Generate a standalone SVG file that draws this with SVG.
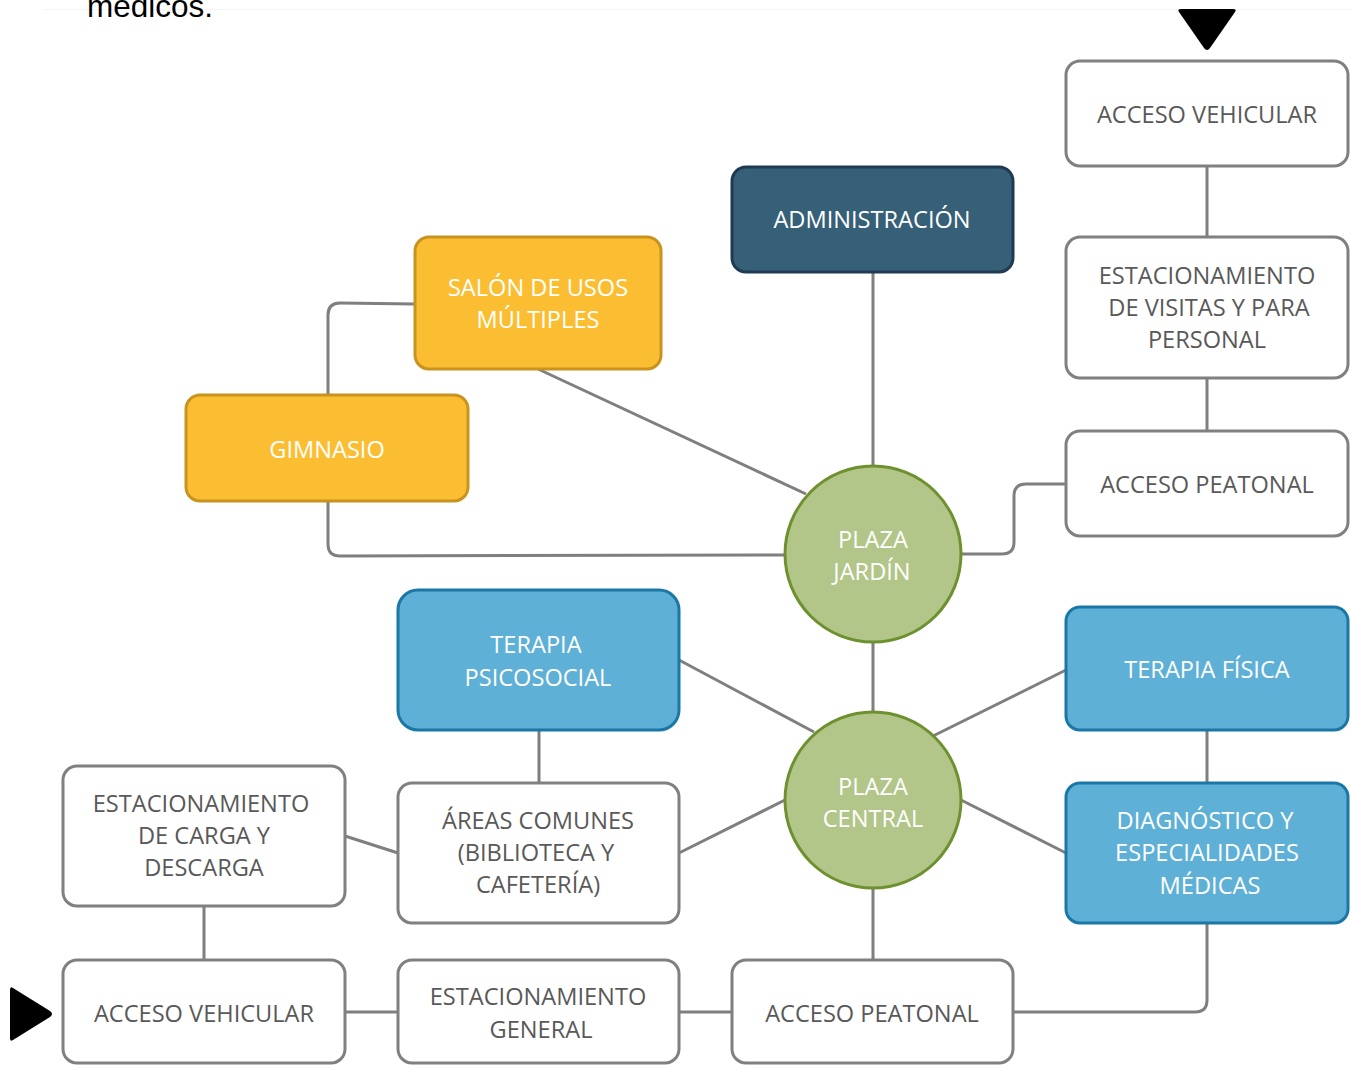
<svg xmlns="http://www.w3.org/2000/svg" width="1351" height="1065" viewBox="0 0 1351 1065">
<style>
.wb{fill:#fff;stroke:#808080;stroke-width:3}
.yb{fill:#fbbe32;stroke:#c9931f;stroke-width:3}
.bb{fill:#5eb0d6;stroke:#1b77a6;stroke-width:3}
.db{fill:#365f78;stroke:#1e3b52;stroke-width:3}
.gc{fill:#b1c688;stroke:#6e9130;stroke-width:3}
.c{fill:none;stroke:#7f7f7f;stroke-width:3;stroke-linejoin:round}
text{font-family:"Open Sans","Noto Sans","Liberation Sans",sans-serif;font-size:23.6px;text-anchor:middle}
.g{fill:#595959}
.w{fill:#fff}
</style>
<rect width="1351" height="1065" fill="#fff"/>
<line x1="43" y1="9.5" x2="1351" y2="9.5" stroke="#f4f4f4" stroke-width="1"/>
<text x="87" y="17" style="font-family:'Liberation Sans',Arial,sans-serif;font-size:31.5px;text-anchor:start;fill:#000">médicos.</text>
<g id="connectors">
<path class="c" d="M1207 166V237"/>
<path class="c" d="M1207 378V431"/>
<path class="c" d="M1066 484H1026Q1014 484 1014 496V542Q1014 554 1002 554H961"/>
<path class="c" d="M873 272V466"/>
<path class="c" d="M538 369L806 494"/>
<path class="c" d="M415 304L340 303Q328 303 328 315V395"/>
<path class="c" d="M328 501V544Q328 556 340 556L785 555"/>
<path class="c" d="M873 641V712"/>
<path class="c" d="M679 660L814 732"/>
<path class="c" d="M539 730V783"/>
<path class="c" d="M1066 670L931 737"/>
<path class="c" d="M1207 730V783"/>
<path class="c" d="M785 800L679 853"/>
<path class="c" d="M961 800L1066 853"/>
<path class="c" d="M345 836L398 853"/>
<path class="c" d="M204 906V960"/>
<path class="c" d="M345 1012H398"/>
<path class="c" d="M679 1012H732"/>
<path class="c" d="M873 888V960"/>
<path class="c" d="M1013 1012H1195Q1207 1012 1207 1000V923"/>
</g>
<g id="arrow-top"><path d="M1181 9H1233Q1237 9 1235 12L1210 48Q1207 52 1204 48L1179 12Q1177 9 1181 9Z" fill="#000"/></g>
<g id="arrow-left"><path d="M10 990Q10 986 13 988L50 1011Q54 1014 50 1017L13 1040Q10 1042 10 1038Z" fill="#000"/></g>
<g id="acceso-vehicular-top"><rect class="wb" x="1066" y="61" width="282" height="105" rx="14"/><text class="g" x="1207" y="123">ACCESO VEHICULAR</text></g>
<g id="estacionamiento-visitas"><rect class="wb" x="1066" y="237" width="282" height="141" rx="14"/><text class="g" x="1207" y="284">ESTACIONAMIENTO</text><text class="g" x="1209" y="316">DE VISITAS Y PARA</text><text class="g" x="1207" y="348">PERSONAL</text></g>
<g id="acceso-peatonal-right"><rect class="wb" x="1066" y="431" width="282" height="105" rx="14"/><text class="g" x="1207" y="493">ACCESO PEATONAL</text></g>
<g id="administracion"><rect class="db" x="732" y="167" width="281" height="105" rx="14"/><text class="w" x="872" y="228">ADMINISTRACIÓN</text></g>
<g id="salon-usos-multiples"><rect class="yb" x="415" y="237" width="246" height="132" rx="14"/><text class="w" x="538" y="296">SALÓN DE USOS</text><text class="w" x="538" y="328">MÚLTIPLES</text></g>
<g id="gimnasio"><rect class="yb" x="186" y="395" width="282" height="106" rx="14"/><text class="w" x="327" y="458">GIMNASIO</text></g>
<g id="plaza-jardin"><circle class="gc" cx="873" cy="554" r="88"/><text class="w" x="873" y="548">PLAZA</text><text class="w" x="872" y="580">JARDÍN</text></g>
<g id="plaza-central"><circle class="gc" cx="873" cy="800" r="88"/><text class="w" x="873" y="795">PLAZA</text><text class="w" x="873" y="827">CENTRAL</text></g>
<g id="terapia-psicosocial"><rect class="bb" x="398" y="590" width="281" height="140" rx="20"/><text class="w" x="536" y="653">TERAPIA</text><text class="w" x="538" y="686">PSICOSOCIAL</text></g>
<g id="terapia-fisica"><rect class="bb" x="1066" y="607" width="282" height="123" rx="14"/><text class="w" x="1207" y="678">TERAPIA FÍSICA</text></g>
<g id="diagnostico"><rect class="bb" x="1066" y="783" width="282" height="140" rx="14"/><text class="w" x="1205" y="829">DIAGNÓSTICO Y</text><text class="w" x="1207" y="861">ESPECIALIDADES</text><text class="w" x="1210" y="894">MÉDICAS</text></g>
<g id="estacionamiento-carga"><rect class="wb" x="63" y="766" width="282" height="140" rx="14"/><text class="g" x="201" y="812">ESTACIONAMIENTO</text><text class="g" x="204" y="844">DE CARGA Y</text><text class="g" x="204" y="876">DESCARGA</text></g>
<g id="areas-comunes"><rect class="wb" x="398" y="783" width="281" height="140" rx="14"/><text class="g" x="538" y="829">ÁREAS COMUNES</text><text class="g" x="536" y="861">(BIBLIOTECA Y</text><text class="g" x="538" y="893">CAFETERÍA)</text></g>
<g id="acceso-vehicular-bottom"><rect class="wb" x="63" y="960" width="282" height="103" rx="14"/><text class="g" x="204" y="1022">ACCESO VEHICULAR</text></g>
<g id="estacionamiento-general"><rect class="wb" x="398" y="960" width="281" height="103" rx="14"/><text class="g" x="538" y="1005">ESTACIONAMIENTO</text><text class="g" x="541" y="1038">GENERAL</text></g>
<g id="acceso-peatonal-bottom"><rect class="wb" x="732" y="960" width="281" height="103" rx="14"/><text class="g" x="872" y="1022">ACCESO PEATONAL</text></g>
</svg>
